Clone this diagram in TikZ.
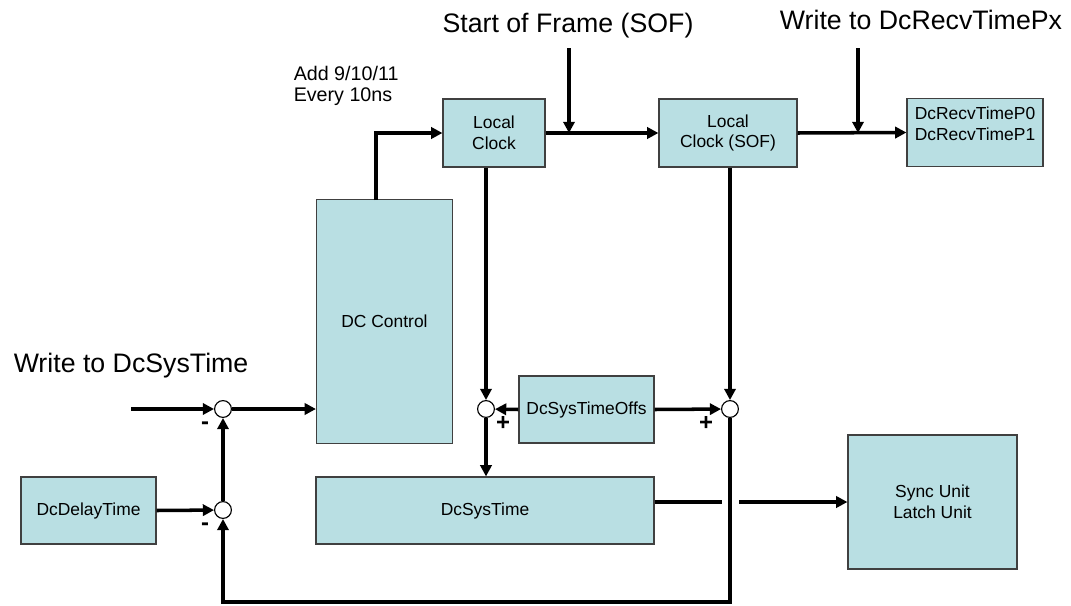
\documentclass[tikz,border=0pt]{standalone}
\usepackage{fontspec}
\setmainfont{Liberation Sans}
\usetikzlibrary{calc}
\usetikzlibrary{arrows.meta}
\usetikzlibrary{positioning}
\definecolor{blockfill}{RGB}{185,223,227}
\newcommand{\boxfont}{\fontsize{12.4}{14.8}\selectfont}
\newcommand{\bigfont}{\fontsize{19}{22}\selectfont}
\tikzset{
	every path/.style={line width=2.5pt},
	align=center,
	blk/.style={
		draw=black!75,
		line width=0.8pt,
		fill=blockfill,
		rectangle,
		inner sep=0pt,
		font=\boxfont,
	},
	sum/.style={
		draw,
		circle,
		fill=white,
		line width=0.8pt,
		minimum size=0.42cm,
		inner sep=0pt,
	},
	sig/.style={
		-{Triangle[length=8pt,width=8pt]}
	},
	sign/.style={
		font=\fontsize{17}{17}\selectfont\bfseries,
		inner sep=0pt,
	},
	caption/.style={
		font=\bigfont,
		inner sep=0pt,
	},
}

\begin{document}
\begin{tikzpicture}[x=0.025cm, y=-0.025cm]
		\useasboundingbox (0,0) rectangle (1071,605);

		\node[caption] 			(sofcap) at (568,26) {Start of Frame (SOF)};
		\node[caption] 			(recvcap) at (921,20) {Write to DcRecvTimePx};
		\node[caption, anchor=west] 	(syscap) at (12,366) {Write to DcSysTime};
		\node[align=left, anchor=west, inner sep=0pt, font=\fontsize{14}{15}\selectfont]
									(addcap) at (292,86) {Add 9/10/11\\Every 10ns};

		\node[blk, minimum width=2.55cm, minimum height=1.7cm]  (lclk) at (494,133) {Local\\Clock};
		\node[blk, minimum width=3.45cm, minimum height=1.7cm]  (sofclk) at (728,133) {Local\\Clock (SOF)};
		\node[blk, minimum width=3.4cm, minimum height=1.68cm]  (recv) at (975,132.5) {};
		\node[font=\boxfont, inner sep=0pt] 	(recvtxt) at (975,124) {DcRecvTimeP0\\DcRecvTimeP1};

		\node[blk, minimum width=3.4cm, minimum height=6.1cm]   (dcctl) at (384.5,321.5) {DC Control};
		\node[blk, minimum width=3.375cm, minimum height=1.675cm] (offs) at (586.5,409.5) {DcSysTimeOffs};
		\node[blk, minimum width=8.45cm, minimum height=1.675cm] (systime) at (485,510.5) {DcSysTime};
		\node[blk, minimum width=3.375cm, minimum height=1.675cm] (delay) at (88.5,510.5) {DcDelayTime};
		\node[blk, minimum width=4.225cm, minimum height=3.35cm] (sync) at (932.5,502) {Sync Unit\\Latch Unit};

		\node[sum] 					(sumsys) at (223,409) {};
		\node[sum] 					(sumdly) at (223,510) {};
		\node[sum] 					(sumoffl) at (486,409) {};
		\node[sum] 					(sumoffr) at (730,409) {};

		\node[sign] 				(m1) at (205,426) {-};
		\node[sign] 				(m2) at (205,527) {-};
		\node[sign] 				(p1) at (503,423) {+};
		\node[sign] 				(p2) at (706,423) {+};

		\coordinate 				(sysin) at (131,409);
		\coordinate 				(sofin) at (569,48);
		\coordinate 				(recvin) at (858,48);
		\coordinate 				(ctlout) at (376,200);
		\coordinate 				(gapl) at (722,502);
		\coordinate 				(gapr) at (739,502);
		\coordinate 				(fbk) at (223,602);

%*********

		\draw[sig] 					(sysin) -- (sumsys);
		\draw[sig] 					(sumsys) -- (sumsys -| dcctl.west);
		\draw[sig] 					(ctlout) |- (lclk.west);
		\draw[sig] 					(sofin) -- (sofin |- lclk.east);
		\draw[sig] 					(lclk.east) -- (sofclk.west);
		\draw[sig] 					(recvin) -- (recvin |- sofclk.east);
		\draw[sig] 					(sofclk.east) -- (recv.west);

		\draw[sig] 					(lclk.south -| sumoffl) -- (sumoffl);
		\draw[sig] 					(sofclk.south -| sumoffr) -- (sumoffr);
		\draw[sig] 					(offs.west) -- (sumoffl);
		\draw[sig] 					(offs.east) -- (sumoffr);
		\draw[sig] 					(sumoffl) -- (sumoffl |- systime.north);

		\draw 						(gapl -| systime.east) -- (gapl);
		\draw[sig] 					(gapr) -- (gapr -| sync.west);

		\draw[sig] 					(delay.east) -- (sumdly);
		\draw[sig] 					(sumdly) -- (sumsys);
		\draw[sig] 					(sumoffr) |- (fbk) -- (sumdly);

	\end{tikzpicture}
\end{document}
